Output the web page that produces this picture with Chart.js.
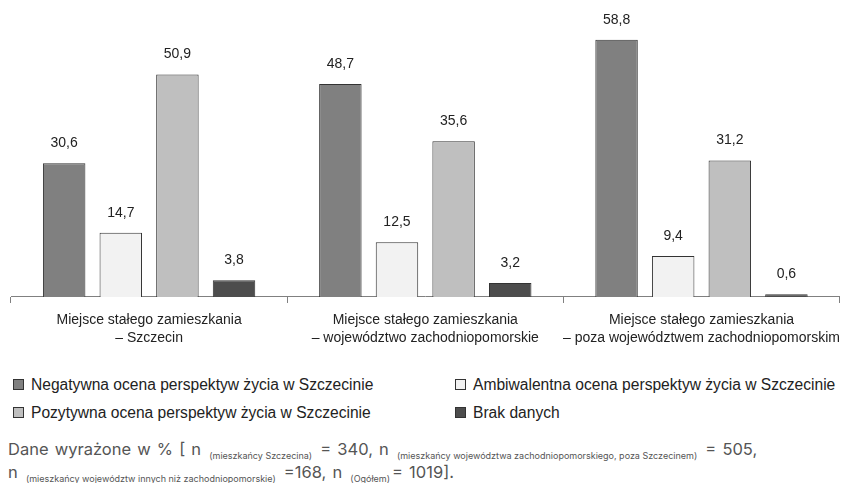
<!DOCTYPE html>
<html lang="pl">
<head>
<meta charset="utf-8">
<script src="https://cdn.jsdelivr.net/npm/chart.js@4/dist/chart.umd.min.js"></script>
<style>
  html, body { margin:0; padding:0; background:#fff; }
  body { width:842px; height:483px; position:relative; overflow:hidden; font-family:"Liberation Sans", Arial, sans-serif; }
  #wrap { position:absolute; left:0; top:0; width:842px; height:355px; overflow:hidden; }
  .leg { position:absolute; font-size:15.6px; color:#222; white-space:nowrap; line-height:18px; }
  .sw { display:inline-block; width:9px; height:9px; border:1px solid #333; margin-right:7px; vertical-align:0px; }
  #note { position:absolute; left:8px; top:438px; font-family:Inter, "Liberation Sans", sans-serif; font-size:16.5px; color:#555; line-height:23px; white-space:nowrap; word-spacing:1.5px; }
  #note sub { font-size:9px; vertical-align:-4px; line-height:0; word-spacing:0; padding:0 2px; }
</style>
</head>
<body>
<div id="wrap"><canvas id="c" width="848" height="355"></canvas></div>
<div id="legend"></div>
<div id="note">Dane wyrażone w % [ n <sub>(mieszkańcy Szczecina)</sub> = 340, n <sub>(mieszkańcy województwa zachodniopomorskiego, poza Szczecinem)</sub> = 505,<br>n <sub>(mieszkańcy województw innych niż zachodniopomorskie)</sub> =168, n <sub>(Ogółem)</sub>= 1019].</div>
<script>
const categories = [
  ["Miejsce stałego zamieszkania", "– Szczecin"],
  ["Miejsce stałego zamieszkania", "– województwo zachodniopomorskie"],
  ["Miejsce stałego zamieszkania", "– poza województwem zachodniopomorskim"]
];
const seriesNames = [
  "Negatywna ocena perspektyw życia w Szczecinie",
  "Ambiwalentna ocena perspektyw życia w Szczecinie",
  "Pozytywna ocena perspektyw życia w Szczecinie",
  "Brak danych"
];
const negatywna = [30.6, 48.7, 58.8];
const ambiwalentna = [14.7, 12.5, 9.4];
const pozytywna = [50.9, 35.6, 31.2];
const brakDanych = [3.8, 3.2, 0.6];
const colors = ["#808080", "#f2f2f2", "#bfbfbf", "#4d4d4d"];
const seriesValues = [negatywna, ambiwalentna, pozytywna, brakDanych];

const valueLabels = {
  id: "valueLabels",
  afterDatasetsDraw(chart) {
    const ctx = chart.ctx;
    ctx.save();
    ctx.font = "14px 'Liberation Sans', Arial, sans-serif";
    ctx.fillStyle = "#222";
    ctx.textAlign = "center";
    ctx.textBaseline = "middle";
    chart.data.datasets.forEach((ds, i) => {
      chart.getDatasetMeta(i).data.forEach((el, j) => {
        ctx.fillText(String(ds.data[j]).replace(".", ","), el.x, el.y - 20);
      });
    });
    ctx.restore();
  }
};

new Chart(document.getElementById("c"), {
  type: "bar",
  data: {
    labels: categories,
    datasets: seriesValues.map((vals, i) => ({
      label: seriesNames[i],
      data: vals,
      backgroundColor: colors[i],
      borderColor: "#333",
      borderWidth: 1,
      barPercentage: 0.75,
      categoryPercentage: 0.82
    }))
  },
  options: {
    responsive: false,
    animation: false,
    layout: { autoPadding: false, padding: { left: 11, right: 0, top: 4, bottom: 0 } },
    plugins: { legend: { display: false }, tooltip: { enabled: false } },
    scales: {
      x: {
        offset: true,
        grid: { display: true, drawOnChartArea: false, drawTicks: true, tickLength: 6, color: "#808080", offset: true },
        border: { display: true, color: "#808080", width: 1 },
        ticks: { color: "#222", padding: 8, maxRotation: 0, autoSkip: false,
                 font: { family: "'Liberation Sans', Arial, sans-serif", size: 14, lineHeight: 1.286 } }
      },
      y: { display: false, min: 0, max: 67 }
    }
  },
  plugins: [valueLabels]
});

const legendPos = [[13, 376], [455, 376], [13, 404], [455, 404]];
const legEl = document.getElementById("legend");
seriesNames.forEach((name, i) => {
  const d = document.createElement("div");
  d.className = "leg";
  d.style.left = legendPos[i][0] + "px";
  d.style.top = legendPos[i][1] + "px";
  d.innerHTML = '<span class="sw" style="background:' + colors[i] + '"></span>' + name;
  legEl.appendChild(d);
});
</script>
</body>
</html>
